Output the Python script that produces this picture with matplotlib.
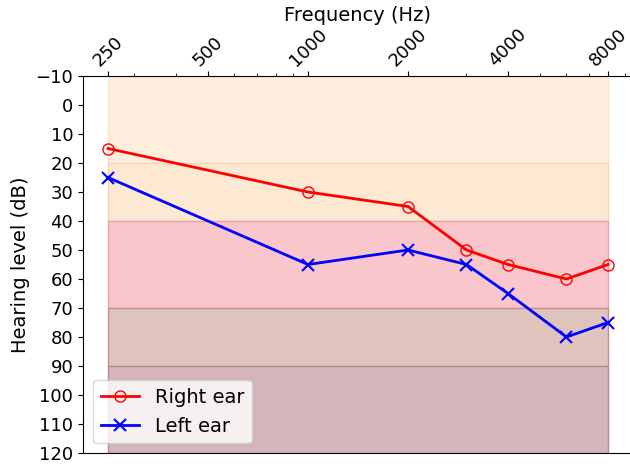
import matplotlib
matplotlib.use("Agg")
import matplotlib.pyplot as plt
from matplotlib.ticker import FixedLocator, FixedFormatter, LogLocator, NullFormatter

# Test frequencies (Hz) and thresholds (dB HL)
freqs = [250, 1000, 2000, 3000, 4000, 6000, 8000]
right_ear = [15, 30, 35, 50, 55, 60, 55]
left_ear = [25, 55, 50, 55, 65, 80, 75]

tick_freqs = [250, 500, 1000, 2000, 4000, 8000]
tick_labels = ["250", "500", "1000", "2000", "4000", "8000"]

# Hearing-loss severity bands (dB HL)
band_edges = [-10, 20, 40, 70, 90, 120]
band_faces = ["#feeedd", "#fde8d4", "#f9c7cb", "#e0c3bd", "#d4b6ba"]
band_lines = ["#fde3c6", "#f9d3ad", "#eaa3a3", "#c9908a", "#b98a90"]

fig = plt.figure(figsize=(6.30, 4.66), dpi=100)
ax = fig.add_axes([83 / 630, 13 / 466, 550 / 630, 377 / 466])

for lo, hi, fc, ec in zip(band_edges[:-1], band_edges[1:], band_faces, band_lines):
    ax.fill_between([tick_freqs[0], tick_freqs[-1]], lo, hi,
                    facecolor=fc, edgecolor=ec, linewidth=1, zorder=1)

ax.plot(freqs, right_ear, color="red", marker="o", markerfacecolor="none",
        markersize=8, linewidth=2, label="Right ear", zorder=3)
ax.plot(freqs, left_ear, color="blue", marker="x", markersize=8,
        markeredgewidth=1.5, linewidth=2, label="Left ear", zorder=3)

ax.set_xscale("log")
ax.set_ylim(120, -10)
ax.set_yticks(range(-10, 121, 10))

ax.xaxis.tick_top()
ax.xaxis.set_label_position("top")
ax.xaxis.set_major_locator(FixedLocator(tick_freqs))
ax.xaxis.set_major_formatter(FixedFormatter(tick_labels))
ax.xaxis.set_minor_locator(LogLocator(base=10, subs=range(2, 10)))
ax.xaxis.set_minor_formatter(NullFormatter())
plt.setp(ax.get_xticklabels(), rotation=45, ha="center", va="bottom")

ax.tick_params(axis="both", which="major", labelsize=13)
ax.tick_params(axis="x", which="major", pad=1)
ax.set_xlabel("Frequency (Hz)", fontsize=14, labelpad=3)
ax.set_ylabel("Hearing level (dB)", fontsize=14)

ax.spines["right"].set_visible(False)

ax.legend(loc="lower left", fontsize=14, framealpha=0.8)

fig.savefig("out.png", dpi=100)
